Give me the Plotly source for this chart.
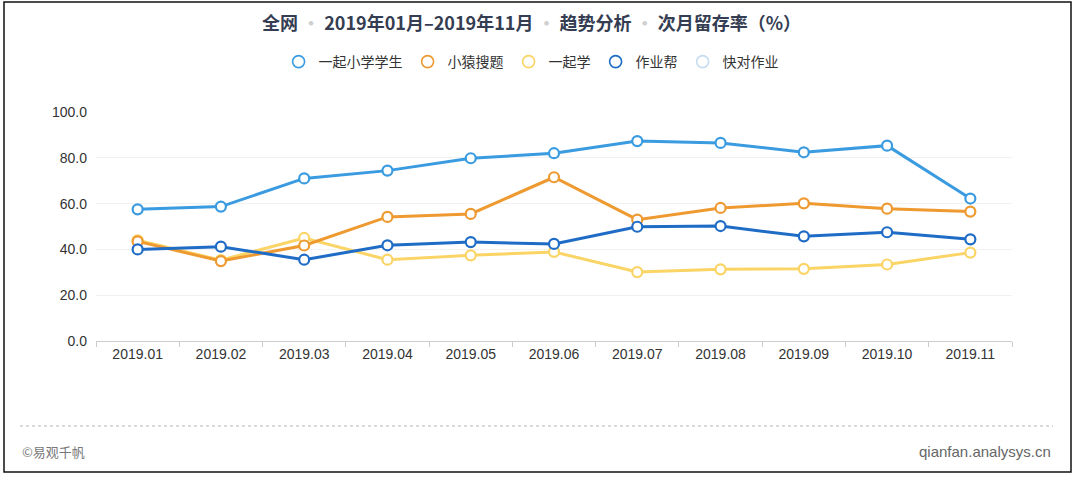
import plotly.graph_objects as go

months = ["2019.01", "2019.02", "2019.03", "2019.04", "2019.05", "2019.06",
          "2019.07", "2019.08", "2019.09", "2019.10", "2019.11"]

yiqi_xiaoxue = [57.5, 58.7, 71.0, 74.4, 79.8, 82.0, 87.3, 86.5, 82.4, 85.3, 62.2]
xiaoyuan = [43.5, 34.9, 41.7, 54.2, 55.5, 71.5, 53.0, 58.1, 60.1, 57.8, 56.5]
yiqixue = [44.0, 35.3, 45.0, 35.5, 37.4, 38.9, 30.1, 31.3, 31.5, 33.4, 38.6]
zuoyebang = [40.0, 41.2, 35.5, 41.8, 43.2, 42.4, 49.9, 50.2, 45.7, 47.5, 44.4]
kuaidui = [None] * len(months)

series_names = ["一起小学学生", "小猿搜题", "一起学", "作业帮", "快对作业"]
series_values = [yiqi_xiaoxue, xiaoyuan, yiqixue, zuoyebang, kuaidui]
series_colors = ["#3a9be0", "#ee9a30", "#fbd466", "#1f6cc6", "#c6dcf0"]
y_ticks = [0, 20, 40, 60, 80, 100]

W, H = 1079, 480
ML, MR, MT, MB = 96, 67, 112, 139
PW, PH = W - ML - MR, H - MT - MB

def px(x):
    return (x - ML) / PW

def py(y):
    return (H - MB - y) / PH

FONT = "Helvetica Neue, Arial, Liberation Sans, Noto Sans CJK SC, sans-serif"
CJK = "Noto Sans CJK SC, Noto Sans, sans-serif"

fig = go.Figure()

draw_order = [2, 1, 3, 0]
for i in draw_order:
    vals = series_values[i]
    fig.add_trace(go.Scatter(
        x=months, y=vals, mode="lines+markers", name=series_names[i],
        legendgroup=series_names[i], showlegend=False,
        line=dict(color=series_colors[i], width=3),
        marker=dict(symbol="circle", size=10, color="white",
                    line=dict(color=series_colors[i], width=2.2)),
        hovertemplate="%{x}<br>" + series_names[i] + ": %{y:.1f}<extra></extra>",
    ))

for i, name in enumerate(series_names):
    fig.add_trace(go.Scatter(
        x=[None], y=[None], mode="markers", name=name, legendgroup=name,
        showlegend=True,
        marker=dict(symbol="circle-open", size=12,
                    line=dict(color=series_colors[i], width=1.6),
                    color=series_colors[i]),
    ))

fig.update_layout(
    width=W, height=H,
    margin=dict(l=ML, r=MR, t=MT, b=MB, pad=0),
    paper_bgcolor="white", plot_bgcolor="white",
    font=dict(family=FONT, size=14, color="#333333"),
    showlegend=True,
    legend=dict(orientation="h", x=0.475, xanchor="center", y=py(62),
                yanchor="middle", font=dict(family=CJK, size=14, color="#333333"),
                itemwidth=30, tracegroupgap=0, bgcolor="rgba(0,0,0,0)"),
    xaxis=dict(type="category", range=[-0.5, len(months) - 0.5],
               tickson="boundaries", ticks="outside", ticklen=5,
               tickcolor="#cccccc", showline=True, linecolor="#cccccc",
               linewidth=1, showgrid=False, zeroline=False,
               tickfont=dict(size=14, color="#333333"), fixedrange=True),
    yaxis=dict(range=[0, 100], tickvals=y_ticks, tickformat=".1f",
               showgrid=True, gridcolor="#f2f2f2", gridwidth=1,
               zeroline=False, showline=False, ticks="", ticklabelstandoff=8,
               tickfont=dict(size=14, color="#333333"), fixedrange=True),
)

dot = "<span style='color:#d0d0d0'> • </span>"
title = ("全网" + dot + "2019年01月–2019年11月" + dot + "趋势分析" + dot + "次月留存率（%）")

fig.add_annotation(x=px(531), y=py(22), xref="paper", yref="paper",
                   text="<b>" + title + "</b>", showarrow=False,
                   xanchor="center", yanchor="middle",
                   font=dict(family=CJK, size=18, color="#353d52"))

fig.add_annotation(x=px(20), y=py(451), xref="paper", yref="paper",
                   text="©易观千帆", showarrow=False, xanchor="left",
                   yanchor="middle", font=dict(family=CJK, size=13, color="#777777"))
fig.add_annotation(x=px(1053), y=py(451), xref="paper", yref="paper",
                   text="qianfan.analysys.cn", showarrow=False, xanchor="right",
                   yanchor="middle", font=dict(family=FONT, size=15, color="#666666"))

fig.add_shape(type="rect", xref="paper", yref="paper",
              x0=px(4), x1=px(1071), y0=py(472), y1=py(2),
              line=dict(color="#111111", width=1.5), layer="below")
fig.add_shape(type="line", xref="paper", yref="paper",
              x0=px(20), x1=px(1053), y0=py(426), y1=py(426),
              line=dict(color="#b5b5b5", width=1, dash="dot"))

fig.write_html("out.html", config={"displayModeBar": False},
               post_script="document.body.style.margin='0';document.body.style.padding='0';")
